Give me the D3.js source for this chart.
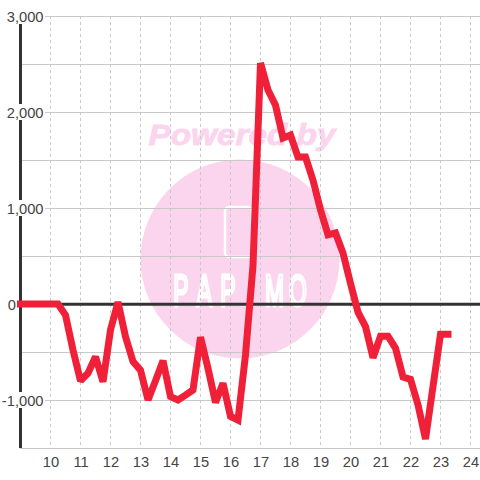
<!DOCTYPE html>
<html>
<head>
<meta charset="utf-8">
<script src="https://cdn.jsdelivr.net/npm/d3@7/dist/d3.min.js"></script>
<style>
html,body{margin:0;padding:0;background:#fff;overflow:hidden}
svg{display:block}
text{font-family:"Liberation Sans",Arial,sans-serif}
</style>
</head>
<body>
<svg id="c" width="480" height="480"></svg>
<script>
const xTicks = [10,11,12,13,14,15,16,17,18,19,20,21,22,23,24];
const yMajorTicks = [-1000,0,1000,2000,3000];
const yGridTicks = [-1500,-1000,-500,0,500,1000,1500,2000,2500,3000];
const hours = [9,9.25,9.5,9.75,10,10.25,10.5,10.75,11,11.25,11.5,11.75,12,12.25,12.5,12.75,13,13.25,13.5,13.75,14,14.25,14.5,14.75,15,15.25,15.5,15.75,16,16.25,16.5,16.75,17,17.25,17.5,17.75,18,18.25,18.5,18.75,19,19.25,19.5,19.75,20,20.25,20.5,20.75,21,21.25,21.5,21.75,22,22.25,22.5,22.75,23,23.25];
const values = [0,0,0,0,0,0,-115,-480,-800,-720,-550,-810,-270,20,-340,-600,-690,-1000,-800,-590,-965,-1000,-950,-895,-345,-670,-1025,-825,-1170,-1210,-530,400,2510,2230,2070,1730,1760,1530,1530,1290,980,720,740,530,215,-85,-235,-560,-335,-335,-460,-760,-785,-1050,-1405,-860,-315,-315];
const watermarkTop = "Powered by";
const watermarkName = ["P","A","P","I","M","O"];

const svg = d3.select("#c");
const x = d3.scaleLinear().domain([9,24.3]).range([20.5,479.5]);
const y = d3.scaleLinear().domain([-1500,3000]).range([448,16]);

// watermark
const wm = svg.append("g");
wm.append("circle").attr("cx",240).attr("cy",259).attr("r",99.5).attr("fill","#fbd5ee");
wm.append("text").attr("x",242).attr("y",144.5).attr("text-anchor","middle")
  .attr("font-size",30).attr("font-weight","bold").attr("font-style","italic")
  .attr("fill","#fbd5ee").attr("stroke","#fbd5ee").attr("stroke-width",0.8)
  .attr("textLength",187).attr("lengthAdjust","spacingAndGlyphs")
  .text(watermarkTop);
wm.append("rect").attr("x",225).attr("y",207).attr("width",27).attr("height",50).attr("rx",4)
  .attr("fill","none").attr("stroke","#fff").attr("stroke-width",2.5);
const letterX = d3.scalePoint().domain(d3.range(watermarkName.length)).range([181,298]);
wm.append("g").selectAll("text").data(watermarkName).join("text")
  .attr("transform",(d,i)=>`translate(${letterX(i)},306) scale(0.52,1)`)
  .attr("text-anchor","middle").attr("font-size",44)
  .attr("fill","none").attr("stroke","#fff").attr("stroke-width",2.5)
  .attr("vector-effect","non-scaling-stroke")
  .text(d=>d);

// grid
svg.append("g").attr("transform","translate(0,16)")
  .call(d3.axisBottom(x).tickValues(xTicks).tickSize(432).tickFormat("").offset(0))
  .call(g=>g.select(".domain").remove())
  .call(g=>g.selectAll("line").attr("stroke","#c8c8c8").attr("stroke-width",1).attr("stroke-dasharray","3,3"));
svg.append("g").attr("transform","translate(20,0)")
  .call(d3.axisLeft(y).tickValues(yGridTicks).tickSize(-460).tickFormat("").offset(0.5))
  .call(g=>g.select(".domain").remove())
  .call(g=>g.selectAll("line").attr("stroke","#c8c8c8").attr("stroke-width",1));

// y axis line
svg.append("line").attr("x1",20.5).attr("x2",20.5).attr("y1",y(3000)).attr("y2",y(-1500))
  .attr("stroke","#333").attr("stroke-width",3);
// zero line
svg.append("line").attr("x1",20).attr("x2",480).attr("y1",y(0)+0.3).attr("y2",y(0)+0.3)
  .attr("stroke","#333").attr("stroke-width",3);

// y labels with white backing (the zero label sits left of the axis)
const yLab = svg.append("g");
const isZero = d=>d===0;
yLab.selectAll("rect").data(yMajorTicks.filter(d=>!isZero(d))).join("rect")
  .attr("x",0).attr("y",d=>y(d)-8).attr("width",45).attr("height",16).attr("fill","#fff");
yLab.selectAll("text").data(yMajorTicks).join("text")
  .attr("x",d=>isZero(d)?16:43.5).attr("y",d=>y(d)+6).attr("text-anchor","end")
  .attr("font-size",14.7).attr("fill","#444")
  .text(d=>d3.format(",")(d).replace("\u2212","-"));

// x labels
svg.append("g").selectAll("text").data(xTicks).join("text")
  .attr("x",d=>x(d)+0.5).attr("y",467).attr("text-anchor","middle")
  .attr("font-size",14.7).attr("fill","#444").text(d=>d);

// series
const line = d3.line().x((d,i)=>x(hours[i])).y(d=>y(d));
svg.append("path").datum(values).attr("d",line)
  .attr("fill","none").attr("stroke","#ef2038").attr("stroke-width",7)
  .attr("stroke-linejoin","miter").attr("stroke-miterlimit",2).attr("stroke-linecap","square");
</script>
</body>
</html>
